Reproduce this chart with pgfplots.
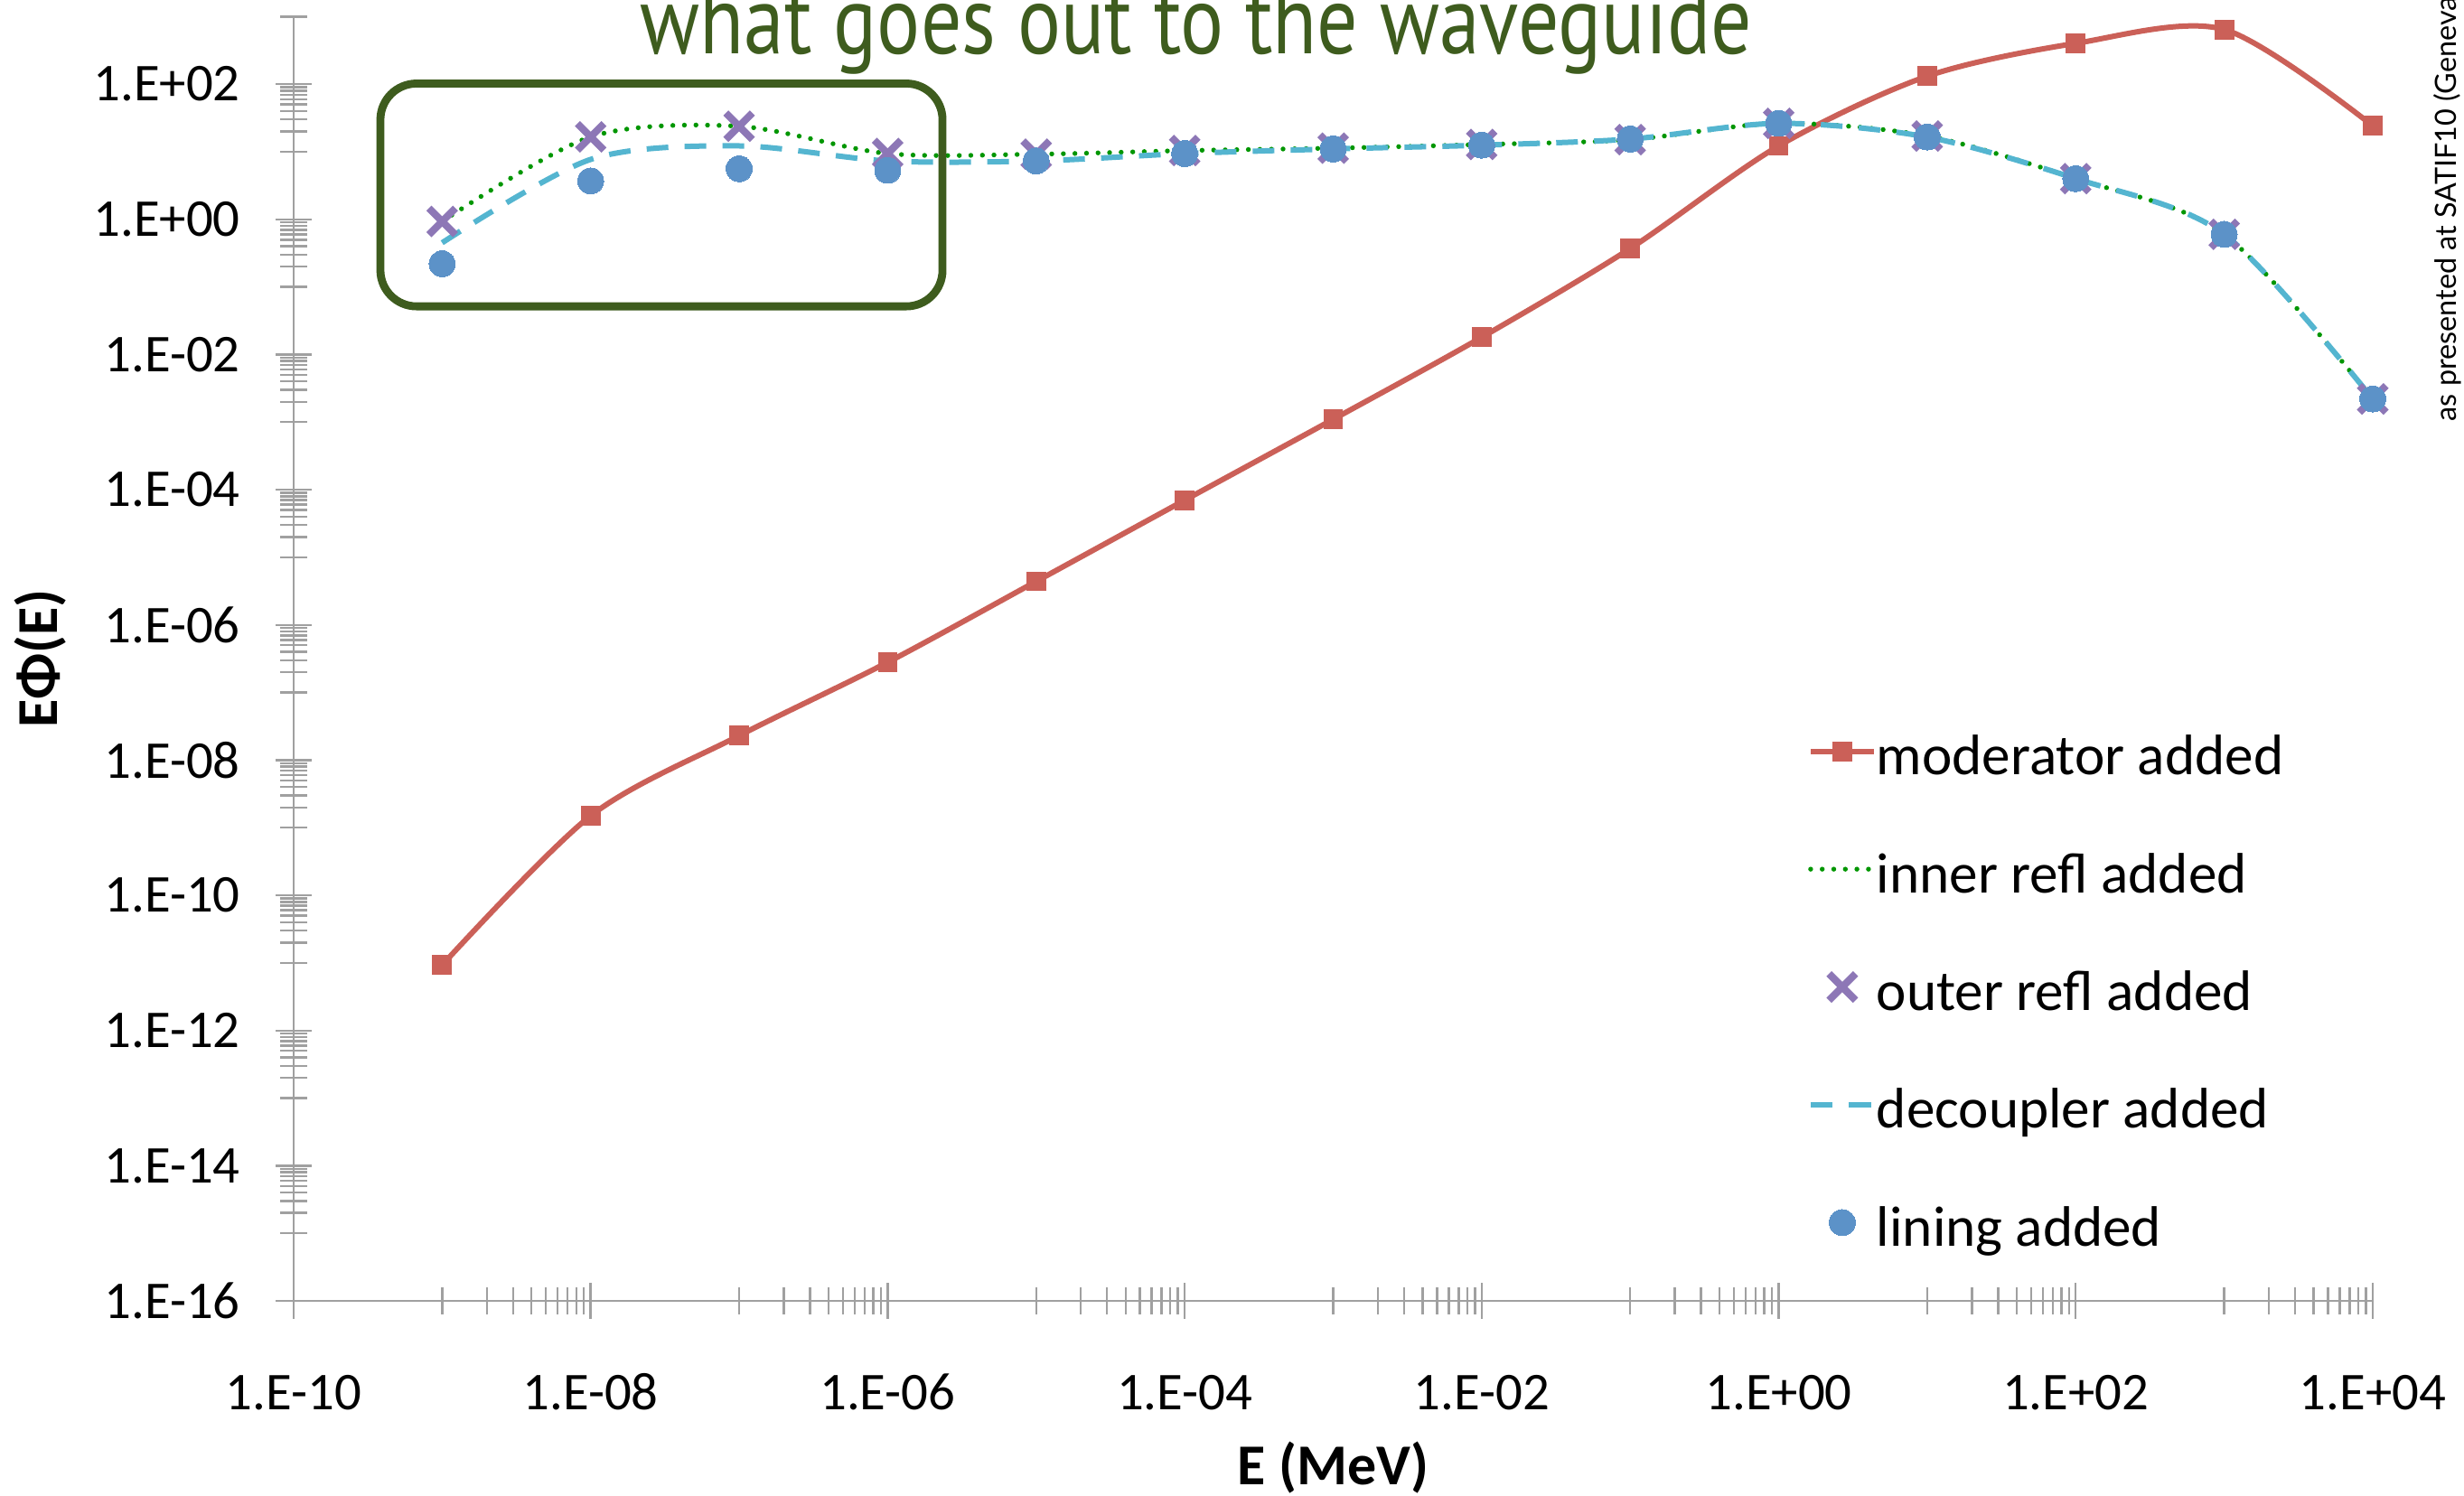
\documentclass[border=0pt]{standalone}
\usepackage{fontspec}
\setmainfont{Carlito}
\newfontfamily\gill{PT Sans}
\newfontfamily\lato{Lato}
\usepackage{graphicx}
\usepackage{pgfplots}
\pgfplotsset{compat=1.18}
\definecolor{modred}{RGB}{203,96,88}
\definecolor{innergreen}{RGB}{0,150,0}
\definecolor{outerpurple}{RGB}{141,119,182}
\definecolor{decoupcyan}{RGB}{84,181,208}
\definecolor{liningblue}{RGB}{92,146,200}
\definecolor{axisgray}{RGB}{160,160,160}
\definecolor{titlegreen}{RGB}{62,92,30}
\begin{document}
\begin{tikzpicture}
\begin{axis}[
  name=ax,
  scale only axis,
  width=575.25pt, height=355.425pt,
  xmode=log, ymode=log,
  xmin=1e-10, xmax=1e4, ymin=1e-16, ymax=1e3,
  axis lines=left,
  axis line style={-, draw=axisgray, line width=0.6pt},
  every tick/.style={draw=axisgray, line width=0.6pt},
  major tick length=10pt, minor tick length=7.5pt,
  xtick align=center, ytick align=center,
  xtick={1e-10,1e-8,1e-6,1e-4,1e-2,1,1e2,1e4},
  xticklabels={1.E-10,1.E-08,1.E-06,1.E-04,1.E-02,1.E+00,1.E+02,1.E+04},
  ytick={1e-16,1e-14,1e-12,1e-10,1e-8,1e-6,1e-4,1e-2,1,1e2},
  yticklabels={1.E-16,1.E-14,1.E-12,1.E-10,1.E-08,1.E-06,1.E-04,1.E-02,1.E+00,1.E+02},
  minor xtick={1e-9,2e-9,3e-9,4e-9,5e-9,6e-9,7e-9,8e-9,9e-9,
    1e-7,2e-7,3e-7,4e-7,5e-7,6e-7,7e-7,8e-7,9e-7,
    1e-5,2e-5,3e-5,4e-5,5e-5,6e-5,7e-5,8e-5,9e-5,
    1e-3,2e-3,3e-3,4e-3,5e-3,6e-3,7e-3,8e-3,9e-3,
    1e-1,2e-1,3e-1,4e-1,5e-1,6e-1,7e-1,8e-1,9e-1,
    1e1,2e1,3e1,4e1,5e1,6e1,7e1,8e1,9e1,
    1e3,2e3,3e3,4e3,5e3,6e3,7e3,8e3,9e3},
  minor ytick={1e-15,2e-15,3e-15,4e-15,5e-15,6e-15,7e-15,8e-15,9e-15,
    1e-13,2e-13,3e-13,4e-13,5e-13,6e-13,7e-13,8e-13,9e-13,
    1e-11,2e-11,3e-11,4e-11,5e-11,6e-11,7e-11,8e-11,9e-11,
    1e-9,2e-9,3e-9,4e-9,5e-9,6e-9,7e-9,8e-9,9e-9,
    1e-7,2e-7,3e-7,4e-7,5e-7,6e-7,7e-7,8e-7,9e-7,
    1e-5,2e-5,3e-5,4e-5,5e-5,6e-5,7e-5,8e-5,9e-5,
    1e-3,2e-3,3e-3,4e-3,5e-3,6e-3,7e-3,8e-3,9e-3,
    1e-1,2e-1,3e-1,4e-1,5e-1,6e-1,7e-1,8e-1,9e-1,
    1e1,2e1,3e1,4e1,5e1,6e1,7e1,8e1,9e1,
    1e3},
  tick label style={font=\fontsize{14.7}{17}\selectfont, inner sep=0pt},
  xticklabel style={anchor=base, yshift=-25.1pt},
  yticklabel style={anchor=east, xshift=-9.6pt},
  xlabel={E (MeV)},
  ylabel={EΦ(E)},
  xlabel style={at={(axis description cs:0.5,-0.1428)}, anchor=base, inner sep=0pt, font=\bfseries\fontsize{16}{19}\selectfont},
  ylabel style={at={(axis description cs:-0.1347,0.5)}, anchor=north, inner sep=0pt, font=\bfseries\fontsize{16}{19}\selectfont},
  legend cell align=left,
  legend image code/.code={\draw[mark repeat=2,mark phase=2,#1] plot coordinates {(0pt,6.5pt) (8.75pt,6.5pt) (17.5pt,6.5pt)};},
  legend style={draw=none, fill=none, at={(axis description cs:0.728,0.456)}, anchor=north west,
    inner sep=0pt, row sep=0pt, font=\fontsize{15.8}{19}\selectfont,
    nodes={inner sep=0pt, text height=16.3pt, text depth=16.3pt}},
]
\addplot[modred, line width=1.5pt, smooth, mark=square*, mark size=2.6pt, mark options={solid, fill=modred, draw=modred, line width=0pt}] coordinates {
(1e-9,9.3e-12) (1e-8,1.5e-9) (1e-7,2.3e-8) (1e-6,2.8e-7) (1e-5,4.4e-6) (1e-4,7.0e-5) (1e-3,1.1e-3)
(1e-2,1.8e-2) (1e-1,0.37) (1,12.2) (1e1,131) (1e2,401) (1e3,643) (1e4,24.2)};
\addlegendentry{moderator added}
\addplot[innergreen, line width=1.35pt, smooth, line cap=round, dash pattern=on 0pt off 3.2pt, no marks] coordinates {
(1e-9,0.93) (1e-8,16.6) (1e-7,23.8) (1e-6,9.4) (1e-5,9.2) (1e-4,10.4) (1e-3,11.3)
(1e-2,12.8) (1e-1,15.1) (1,26.3) (1e1,17.1) (1e2,4.0) (1e3,0.60) (1e4,2.2e-3)};
\addlegendentry{inner refl added}
\addplot[outerpurple, only marks, mark=x, mark size=5.2pt, mark options={draw=outerpurple, line width=2pt, solid}] coordinates {
(1e-9,0.93) (1e-8,16.6) (1e-7,23.8) (1e-6,9.4) (1e-5,9.2) (1e-4,10.4) (1e-3,11.3)
(1e-2,12.8) (1e-1,15.1) (1,26.3) (1e1,17.1) (1e2,4.0) (1e3,0.60) (1e4,2.2e-3)};
\addlegendentry{outer refl added}
\addplot[decoupcyan, line width=1.5pt, smooth, dash pattern=on 6pt off 4.5pt, no marks] coordinates {
(1e-9,0.45) (1e-8,7.7) (1e-7,12.2) (1e-6,7.3) (1e-5,7.3) (1e-4,9.4) (1e-3,11.0)
(1e-2,12.5) (1e-1,15.4) (1,26.3) (1e1,16.5) (1e2,4.0) (1e3,0.60) (1e4,2.2e-3)};
\addlegendentry{decoupler added}
\addplot[liningblue, only marks, mark=*, mark size=3.6pt, mark options={draw=liningblue, fill=liningblue, line width=0pt}] coordinates {
(1e-9,0.22) (1e-8,3.7) (1e-7,5.6) (1e-6,5.3) (1e-5,7.3) (1e-4,9.4) (1e-3,11.0)
(1e-2,12.5) (1e-1,15.4) (1,26.3) (1e1,16.5) (1e2,4.0) (1e3,0.60) (1e4,2.2e-3)};
\addlegendentry{lining added}
\draw[titlegreen, line width=2.2pt, rounded corners=10pt] (axis cs:3.84e-10,102) rectangle (axis cs:2.34e-6,0.0516);
\end{axis}
\node[anchor=base, text=titlegreen, inner sep=0pt] at ([shift={(249.75pt,-10.425pt)}]ax.north west) {\resizebox{307.5pt}{!}{\scalebox{1}[1.2]{\gill\fontsize{26}{30}\selectfont what goes out to the waveguide}}};
\node[anchor=base west, rotate=90, inner sep=0pt] at ([shift={(23pt,-112.2pt)}]ax.north east) {\lato\fontsize{8.1}{10}\selectfont as presented at SATIF10 (Geneva)};
\pgfresetboundingbox
\path[use as bounding box] ([shift={(-81.25pt,-54pt)}]ax.south west) rectangle ([shift={(25.25pt,4.575pt)}]ax.north east);
\end{tikzpicture}
\end{document}
